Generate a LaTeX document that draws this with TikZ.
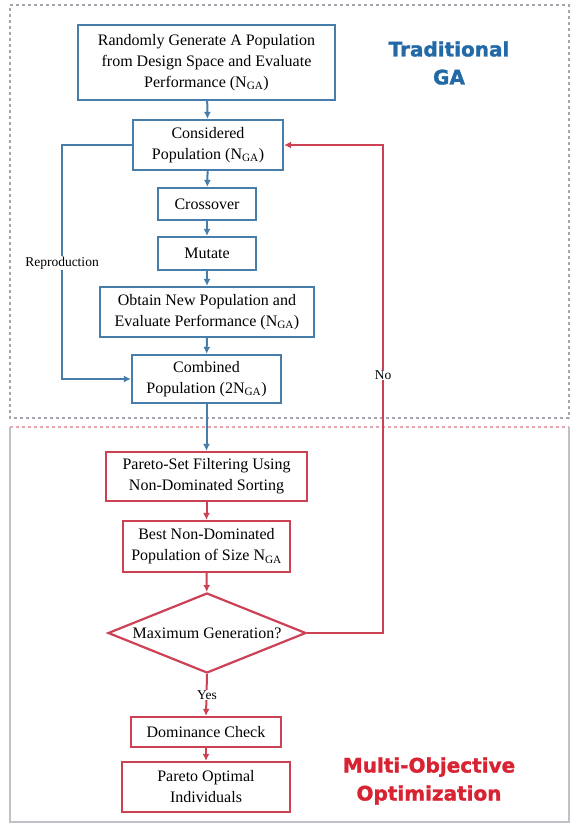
\documentclass[tikz,border=0pt]{standalone}
\usepackage{fontspec}
\setmainfont{Liberation Serif}
\newfontfamily\headfont[BoldFont={DejaVu Sans Bold},BoldFeatures={FakeBold=1.5}]{DejaVu Sans}
\usetikzlibrary{shapes.geometric,arrows.meta}
\definecolor{bblue}{RGB}{70,125,170}
\definecolor{rred}{RGB}{205,65,85}
\definecolor{tblue}{RGB}{35,105,165}
\definecolor{tred}{RGB}{215,35,50}
\definecolor{framegray}{RGB}{165,165,175}
\definecolor{framepink}{RGB}{235,165,175}
\newcommand{\NGA}{N\textsubscript{GA}}
\begin{document}
\begin{tikzpicture}[x=1pt,y=-1pt,
  font=\fontsize{16}{21}\selectfont,
  bbox/.style={draw=bblue,line width=2.2pt,fill=white,align=center,inner sep=2pt},
  rbox/.style={draw=rred,line width=2.2pt,fill=white,align=center,inner sep=2pt},
  barrow/.style={draw=bblue,line width=2pt,-{Latex[length=7pt,width=7pt]}},
  rarrow/.style={draw=rred,line width=2pt,-{Latex[length=7pt,width=7pt]}},
  lbl/.style={fill=white,inner sep=1pt,font=\fontsize{13.5}{16}\selectfont},
  head/.style={font=\headfont\bfseries\fontsize{20}{28}\selectfont,align=center}]
\useasboundingbox (0,0) rectangle (572,827);
% region frames
\draw[framegray,line width=1.4pt,dashed] (10,5) -- (569,5) -- (569,418) -- (10,418) -- cycle;
\draw[framepink,line width=1.2pt,dashed] (10,427) -- (569,427);
\draw[framegray!70,line width=1.2pt] (10,427) -- (10,822) -- (569,822) -- (569,427);
% nodes
\node[bbox,minimum width=257pt,minimum height=75pt] (b1) at (206.5,62.5)
  {Randomly Generate A Population\\from Design Space and Evaluate\\Performance (\NGA)};
\node[bbox,minimum width=150pt,minimum height=50pt] (b2) at (208,145)
  {Considered\\Population (\NGA)};
\node[bbox,minimum width=98pt,minimum height=32pt] (cr) at (207,204) {Crossover};
\node[bbox,minimum width=98pt,minimum height=33pt] (mu) at (207,253.5) {Mutate};
\node[bbox,minimum width=214pt,minimum height=50pt] (ob) at (207,312)
  {Obtain New Population and\\Evaluate Performance (\NGA)};
\node[bbox,minimum width=149pt,minimum height=48pt] (co) at (206.5,379)
  {Combined\\Population (2\NGA)};
\node[rbox,minimum width=201pt,minimum height=49pt] (pa) at (206.5,476.5)
  {Pareto-Set Filtering Using\\Non-Dominated Sorting};
\node[rbox,minimum width=167pt,minimum height=51pt] (be) at (206.5,546.5)
  {Best Non-Dominated\\Population of Size \NGA};
\node[rbox,diamond,shape aspect=2.5,inner sep=0pt,minimum width=198pt,minimum height=80pt] (di) at (207,633)
  {Maximum Generation?};
\node[rbox,minimum width=150pt,minimum height=30pt] (dc) at (206,732) {Dominance Check};
\node[rbox,minimum width=168pt,minimum height=50pt] (po) at (206,787)
  {Pareto Optimal\\Individuals};
% headings
\node[head,text=tblue] (h1) at (449,63) {Traditional\\GA};
\node[head,text=tred] (h2) at (429,781) {Multi-Objective\\Optimization};
% connectors
\draw[barrow] (b1) -- (b2);
\draw[barrow] (b2) -- (cr);
\draw[barrow] (cr) -- (mu);
\draw[barrow] (mu) -- (ob);
\draw[barrow] (ob) -- (co);
\draw[barrow] (co) -- (pa);
\draw[rarrow] (pa) -- (be);
\draw[rarrow] (be) -- (di);
\coordinate (rl) at (62,145);
\coordinate (rb) at (62,379);
\draw[barrow] (b2.west) -- (rl) -- (rb) -- (co.west);
\node[lbl] (rep) at (62,263) {Reproduction};
\coordinate (nr) at (383,633);
\coordinate (nt) at (383,145);
\draw[rarrow] (di.east) -- (nr) -- (nt) -- (b2.east);
\node[lbl] (no) at (383,375) {No};
\draw[rarrow] (di.south) -- (dc.north);
\node[lbl] (yes) at (207,695) {Yes};
\draw[rarrow] (dc) -- (po);
\end{tikzpicture}
\end{document}
